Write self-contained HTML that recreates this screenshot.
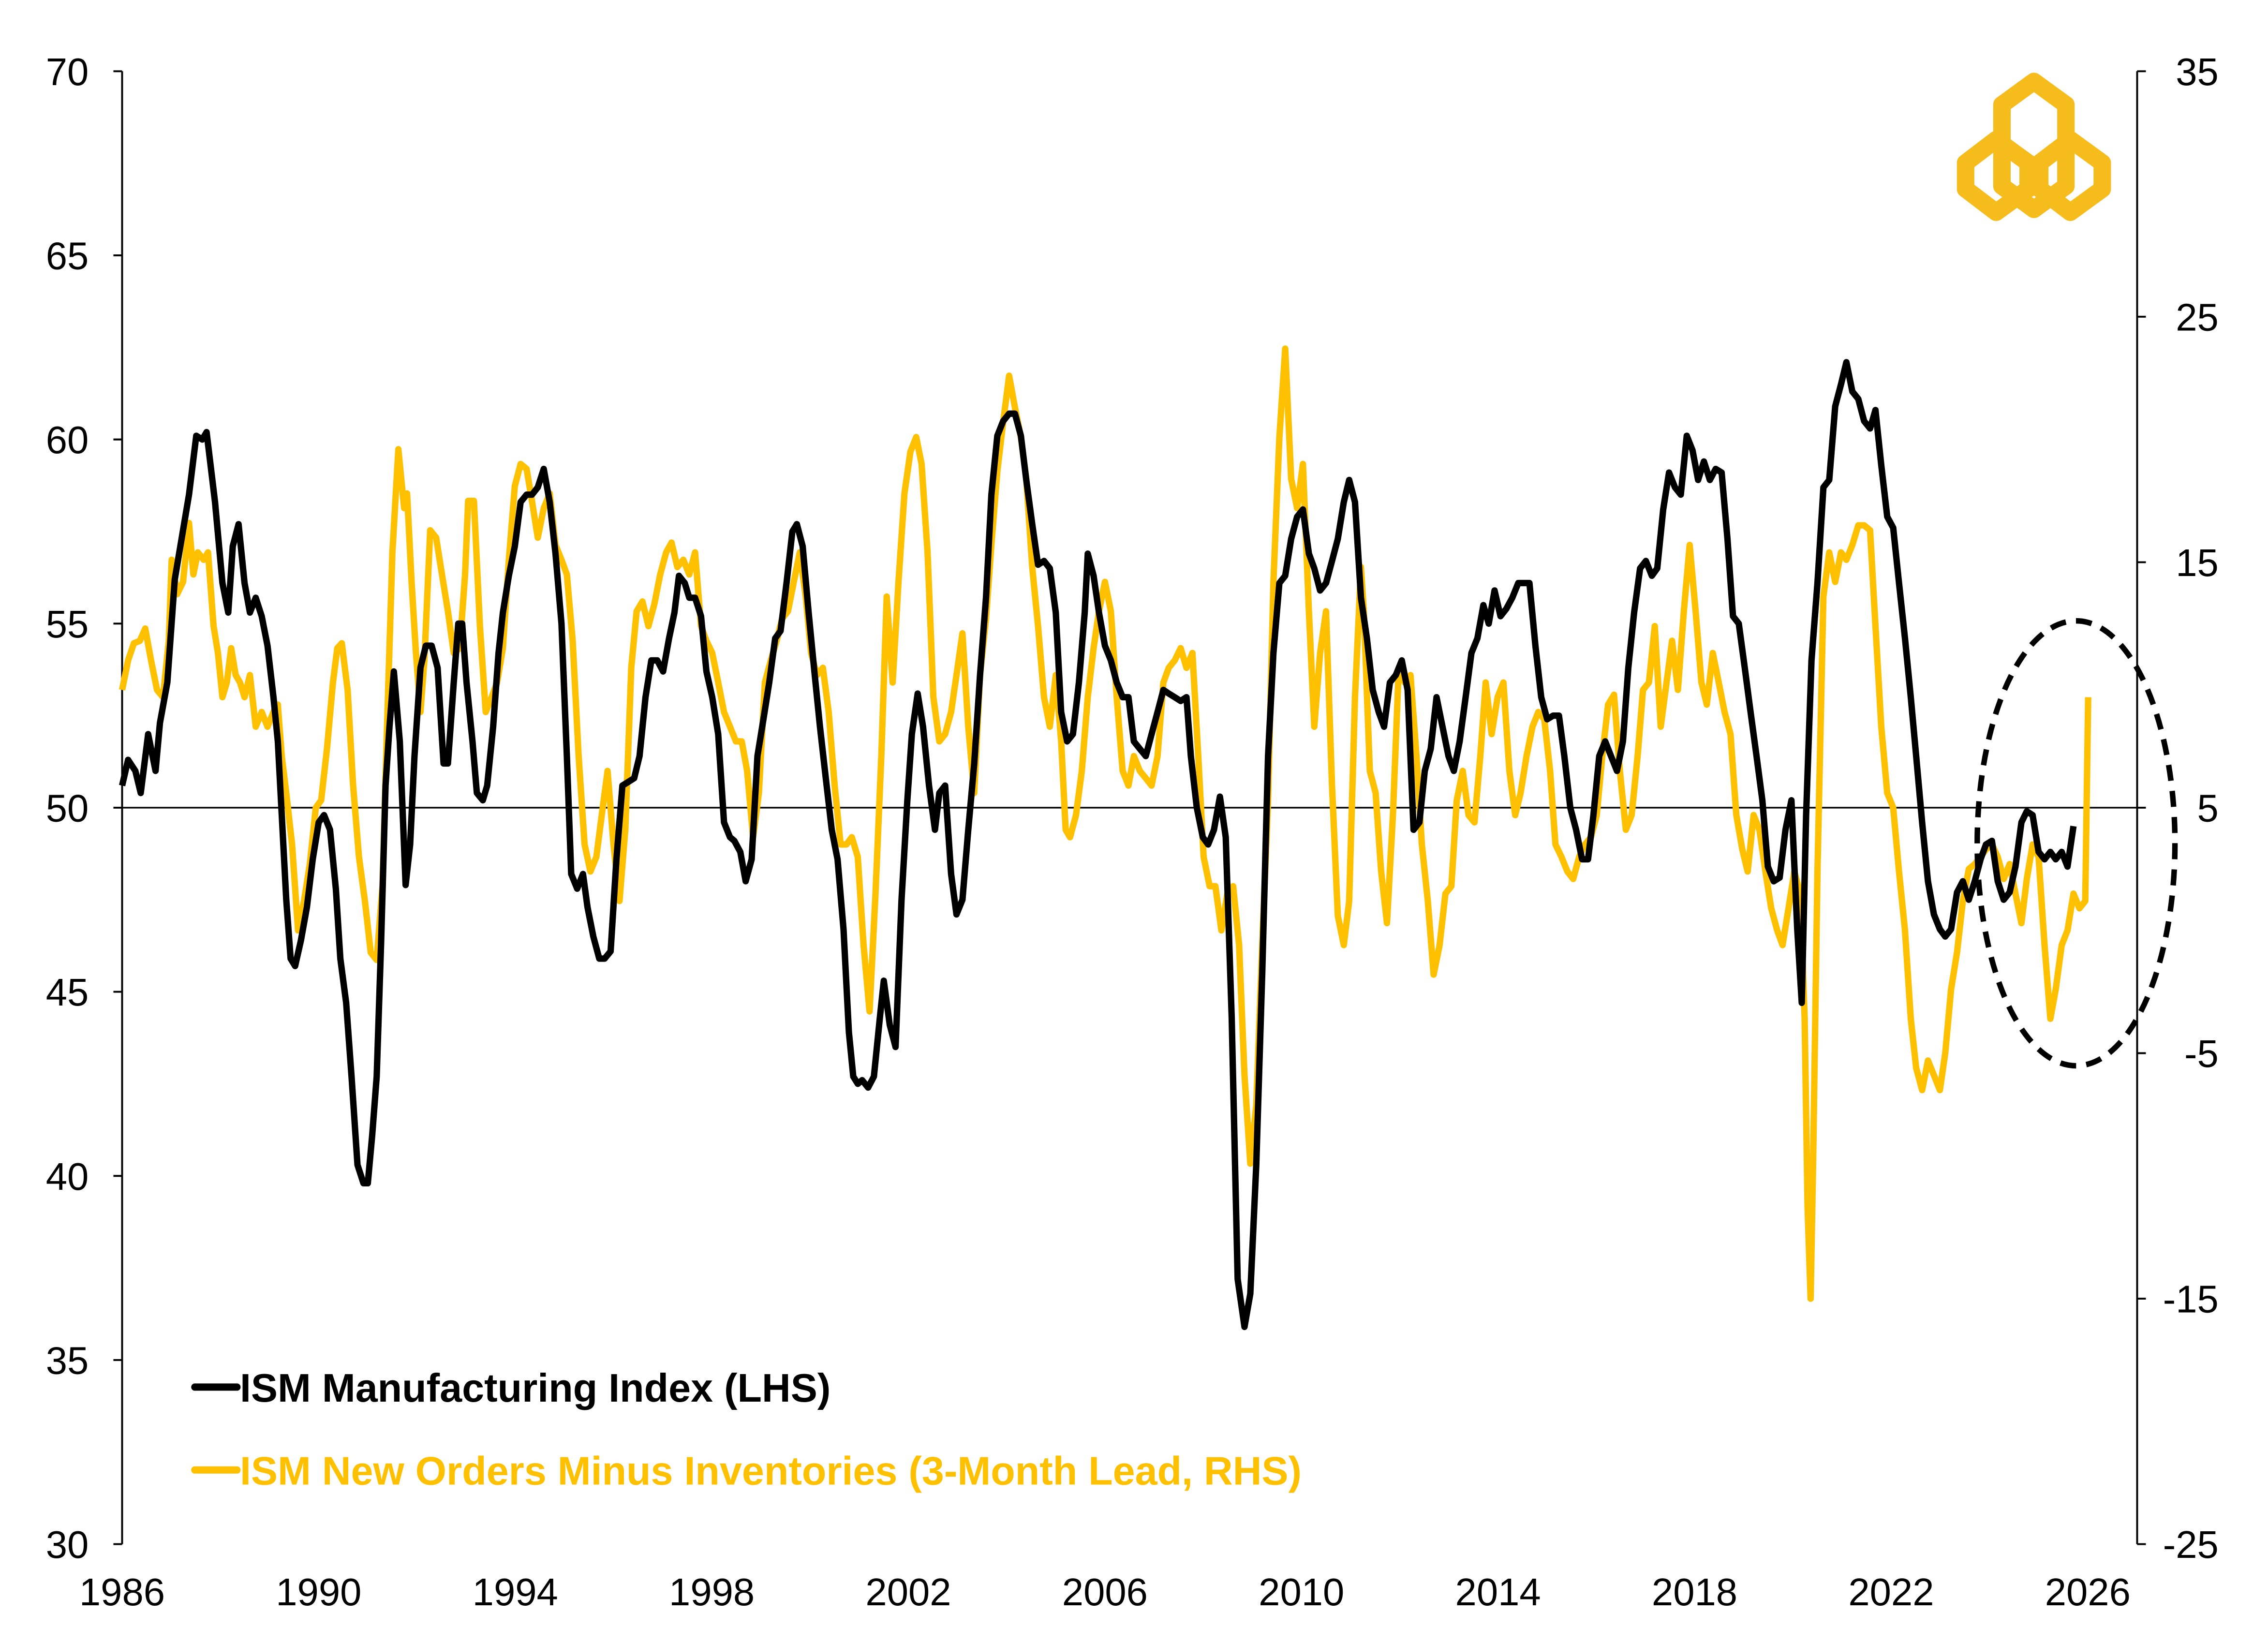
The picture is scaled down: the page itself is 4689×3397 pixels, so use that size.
<!DOCTYPE html>
<html><head><meta charset="utf-8"><style>
html,body{margin:0;padding:0;background:#fff}
svg{display:block}
text{font-family:"Liberation Sans",Arial,sans-serif}
</style></head><body>
<svg id="chart" xmlns="http://www.w3.org/2000/svg" width="4689" height="3397" viewBox="0 0 1560 1130" preserveAspectRatio="none">
<rect width="1560" height="1130" fill="#fff"/>
<g id="axes"></g>
<g id="series"></g>
<ellipse cx="1428" cy="580" rx="68" ry="153" fill="none" stroke="#000" stroke-width="3.8" stroke-dasharray="11,7"/>
<g fill="none" stroke="#F5BC1C" stroke-width="12" stroke-linejoin="round">
<polygon points="1399,56 1421,72 1421,128 1399,144 1377,128 1377,72"/>
<polygon points="1373,96 1395,112 1395,130 1373,146 1352,130 1352,112"/>
<polygon points="1424,96 1446,112 1446,130 1424,146 1403,130 1403,112"/>
</g>
<g>
<line x1="134" y1="954" x2="163" y2="954" stroke="#000" stroke-width="5" stroke-linecap="round"/>
<text x="165" y="964" font-size="27.5" font-weight="bold" fill="#000">ISM Manufacturing Index (LHS)</text>
<line x1="134" y1="1011" x2="163" y2="1011" stroke="#FFC000" stroke-width="5" stroke-linecap="round"/>
<text x="165" y="1021" font-size="27.5" font-weight="bold" fill="#FFC000">ISM New Orders Minus Inventories (3-Month Lead, RHS)</text>
</g>
</svg>
<script>
const leftTicks=[70,65,60,55,50,45,40,35,30];
const rightTicks=[35,25,15,5,-5,-15,-25];
const yearTicks=[1986,1990,1994,1998,2002,2006,2010,2014,2018,2022,2026];
const ismDates=[1986.00,1986.12,1986.27,1986.38,1986.53,1986.68,1986.77,1986.92,1987.07,1987.21,1987.36,1987.51,1987.63,1987.72,1987.89,1988.04,1988.16,1988.25,1988.37,1988.49,1988.60,1988.72,1988.84,1988.96,1989.08,1989.17,1989.25,1989.34,1989.43,1989.52,1989.64,1989.76,1989.88,1990.00,1990.11,1990.23,1990.35,1990.44,1990.56,1990.67,1990.79,1990.91,1991.00,1991.09,1991.18,1991.27,1991.36,1991.44,1991.53,1991.65,1991.77,1991.86,1991.95,1992.07,1992.18,1992.30,1992.42,1992.54,1992.63,1992.75,1992.84,1992.92,1993.01,1993.13,1993.22,1993.34,1993.43,1993.55,1993.66,1993.75,1993.87,1993.99,1994.11,1994.23,1994.34,1994.46,1994.58,1994.70,1994.82,1994.94,1995.05,1995.14,1995.26,1995.38,1995.47,1995.59,1995.71,1995.82,1995.94,1996.06,1996.18,1996.30,1996.42,1996.53,1996.65,1996.77,1996.89,1997.01,1997.13,1997.24,1997.33,1997.45,1997.54,1997.66,1997.78,1997.89,1998.01,1998.13,1998.25,1998.37,1998.46,1998.58,1998.69,1998.81,1998.93,1999.05,1999.17,1999.29,1999.40,1999.52,1999.64,1999.73,1999.85,1999.97,2000.08,2000.20,2000.32,2000.44,2000.56,2000.68,2000.79,2000.88,2000.97,2001.06,2001.18,2001.30,2001.42,2001.50,2001.62,2001.74,2001.86,2001.98,2002.07,2002.19,2002.30,2002.42,2002.54,2002.63,2002.75,2002.87,2002.98,2003.10,2003.22,2003.34,2003.46,2003.58,2003.69,2003.81,2003.93,2004.05,2004.17,2004.29,2004.40,2004.52,2004.64,2004.76,2004.88,2005.00,2005.11,2005.23,2005.35,2005.47,2005.59,2005.65,2005.77,2005.88,2006.00,2006.12,2006.24,2006.36,2006.48,2006.59,2006.71,2006.83,2006.95,2007.07,2007.19,2007.30,2007.42,2007.54,2007.66,2007.75,2007.87,2007.99,2008.10,2008.22,2008.34,2008.46,2008.58,2008.70,2008.84,2008.96,2009.08,2009.20,2009.32,2009.43,2009.55,2009.67,2009.79,2009.91,2010.03,2010.15,2010.26,2010.38,2010.50,2010.62,2010.74,2010.86,2010.97,2011.09,2011.21,2011.33,2011.45,2011.57,2011.68,2011.80,2011.92,2012.04,2012.16,2012.28,2012.40,2012.51,2012.63,2012.75,2012.87,2012.99,2013.10,2013.22,2013.34,2013.46,2013.58,2013.70,2013.81,2013.93,2014.05,2014.17,2014.29,2014.41,2014.53,2014.64,2014.76,2014.88,2015.00,2015.12,2015.24,2015.35,2015.47,2015.59,2015.71,2015.83,2015.94,2016.06,2016.18,2016.30,2016.42,2016.54,2016.65,2016.77,2016.89,2017.01,2017.13,2017.24,2017.36,2017.48,2017.60,2017.72,2017.84,2017.96,2018.07,2018.19,2018.31,2018.43,2018.55,2018.67,2018.78,2018.90,2019.02,2019.14,2019.26,2019.38,2019.49,2019.61,2019.73,2019.85,2019.97,2020.09,2020.18,2020.27,2020.38,2020.50,2020.62,2020.74,2020.86,2020.98,2021.09,2021.21,2021.33,2021.45,2021.57,2021.68,2021.80,2021.92,2022.04,2022.16,2022.28,2022.40,2022.51,2022.63,2022.75,2022.87,2022.99,2023.10,2023.22,2023.34,2023.46,2023.58,2023.70,2023.82,2023.93,2024.05,2024.17,2024.29,2024.41,2024.53,2024.65,2024.76,2024.88,2025.00,2025.12,2025.24,2025.35,2025.47,2025.59,2025.71];
const ismValues=[50.6,51.3,51.0,50.4,52.0,51.0,52.3,53.4,56.2,57.3,58.5,60.1,60.0,60.2,58.3,56.1,55.3,57.1,57.7,56.1,55.3,55.7,55.2,54.4,53.0,51.8,49.8,47.5,45.9,45.7,46.4,47.3,48.6,49.6,49.8,49.4,47.8,45.9,44.7,42.7,40.3,39.8,39.8,41.1,42.7,46.3,50.6,52.2,53.7,51.8,47.9,49.0,51.4,53.8,54.4,54.4,53.8,51.2,51.2,53.4,55.0,55.0,53.4,51.8,50.4,50.2,50.6,52.2,54.2,55.3,56.3,57.1,58.3,58.5,58.5,58.7,59.2,58.3,56.9,55.0,51.4,48.2,47.8,48.2,47.3,46.5,45.9,45.9,46.1,48.6,50.6,50.7,50.8,51.4,53.0,54.0,54.0,53.7,54.6,55.3,56.3,56.1,55.7,55.7,55.2,53.7,53.0,52.0,49.6,49.2,49.1,48.8,48.0,48.6,51.4,52.4,53.4,54.6,54.8,56.1,57.5,57.7,57.1,55.3,53.8,52.2,50.8,49.4,48.6,46.7,43.9,42.7,42.5,42.6,42.4,42.7,44.3,45.3,44.1,43.5,47.5,50.2,52.0,53.1,52.2,50.6,49.4,50.4,50.6,48.2,47.1,47.5,49.4,51.2,53.6,55.7,58.5,60.1,60.5,60.7,60.7,60.1,58.9,57.7,56.6,56.7,56.5,55.3,52.6,51.8,52.0,53.4,55.3,56.9,56.3,55.3,54.4,54.0,53.4,53.0,53.0,51.8,51.6,51.4,52.0,52.6,53.2,53.1,53.0,52.9,53.0,51.4,50.0,49.2,49.0,49.4,50.3,49.2,44.3,37.2,35.9,36.8,40.3,45.5,51.4,54.2,56.1,56.3,57.3,57.9,58.1,56.9,56.5,55.9,56.1,56.7,57.3,58.3,58.9,58.3,55.7,54.6,53.2,52.6,52.2,53.4,53.6,54.0,53.2,49.4,49.6,51.0,51.6,53.0,52.2,51.4,51.0,51.8,53.0,54.2,54.6,55.5,55.0,55.9,55.2,55.4,55.7,56.1,56.1,56.1,54.4,53.0,52.4,52.5,52.5,51.4,50.0,49.4,48.6,48.6,49.8,51.4,51.8,51.4,51.0,51.8,53.8,55.3,56.5,56.7,56.3,56.5,58.1,59.1,58.7,58.5,60.1,59.7,58.9,59.4,58.9,59.2,59.1,57.3,55.2,55.0,53.8,52.6,51.4,50.2,48.4,48.0,48.1,49.4,50.2,46.7,44.7,49.8,54.0,56.1,58.7,58.9,60.9,61.5,62.1,61.3,61.1,60.5,60.3,60.8,59.3,57.9,57.6,56.1,54.6,53.0,51.4,49.6,48.0,47.1,46.7,46.5,46.7,47.7,48.0,47.5,48.0,48.6,49.0,49.1,48.0,47.5,47.7,48.4,49.6,49.9,49.8,48.8,48.6,48.8,48.6,48.8,48.4,49.5];
const noiDates=[1986.00,1986.12,1986.24,1986.36,1986.47,1986.59,1986.71,1986.83,1986.95,1987.01,1987.12,1987.24,1987.36,1987.45,1987.54,1987.66,1987.75,1987.86,1987.95,1988.04,1988.13,1988.22,1988.31,1988.40,1988.49,1988.60,1988.72,1988.84,1988.96,1989.08,1989.17,1989.25,1989.34,1989.46,1989.58,1989.70,1989.82,1989.94,1990.05,1990.17,1990.29,1990.38,1990.47,1990.59,1990.70,1990.82,1990.94,1991.06,1991.18,1991.30,1991.39,1991.50,1991.62,1991.74,1991.80,1991.89,1991.98,1992.07,1992.15,1992.27,1992.39,1992.51,1992.63,1992.75,1992.87,1992.98,1993.04,1993.16,1993.28,1993.40,1993.52,1993.63,1993.75,1993.87,1993.99,1994.11,1994.23,1994.34,1994.46,1994.58,1994.70,1994.82,1994.94,1995.05,1995.17,1995.29,1995.41,1995.53,1995.65,1995.76,1995.88,1996.00,1996.12,1996.24,1996.36,1996.47,1996.59,1996.71,1996.83,1996.95,1997.07,1997.18,1997.30,1997.42,1997.54,1997.66,1997.78,1997.89,1998.01,1998.13,1998.25,1998.37,1998.49,1998.61,1998.72,1998.84,1998.96,1999.08,1999.20,1999.32,1999.43,1999.55,1999.67,1999.79,1999.91,2000.02,2000.14,2000.26,2000.38,2000.50,2000.62,2000.74,2000.85,2000.97,2001.09,2001.21,2001.33,2001.45,2001.56,2001.68,2001.80,2001.92,2002.04,2002.16,2002.27,2002.39,2002.51,2002.63,2002.75,2002.87,2002.98,2003.10,2003.22,2003.34,2003.46,2003.58,2003.69,2003.81,2003.93,2004.05,2004.17,2004.29,2004.40,2004.52,2004.64,2004.76,2004.88,2005.00,2005.11,2005.20,2005.29,2005.41,2005.53,2005.65,2005.77,2005.88,2006.00,2006.12,2006.24,2006.36,2006.48,2006.59,2006.71,2006.83,2006.95,2007.07,2007.19,2007.30,2007.42,2007.54,2007.66,2007.78,2007.90,2008.01,2008.13,2008.25,2008.37,2008.49,2008.61,2008.73,2008.84,2008.96,2009.08,2009.20,2009.32,2009.43,2009.55,2009.67,2009.79,2009.91,2010.03,2010.15,2010.26,2010.38,2010.50,2010.62,2010.74,2010.86,2010.97,2011.09,2011.21,2011.27,2011.39,2011.51,2011.62,2011.74,2011.86,2011.98,2012.10,2012.22,2012.34,2012.45,2012.57,2012.69,2012.81,2012.93,2013.05,2013.16,2013.28,2013.40,2013.52,2013.64,2013.75,2013.87,2013.99,2014.11,2014.23,2014.35,2014.46,2014.58,2014.70,2014.82,2014.94,2015.06,2015.17,2015.29,2015.41,2015.53,2015.65,2015.77,2015.89,2016.01,2016.12,2016.24,2016.36,2016.48,2016.60,2016.72,2016.84,2016.95,2017.07,2017.19,2017.31,2017.43,2017.54,2017.66,2017.78,2017.90,2018.02,2018.14,2018.25,2018.37,2018.49,2018.61,2018.73,2018.85,2018.97,2019.08,2019.20,2019.32,2019.44,2019.56,2019.68,2019.79,2019.91,2020.03,2020.15,2020.24,2020.30,2020.36,2020.41,2020.50,2020.62,2020.74,2020.86,2020.98,2021.09,2021.21,2021.33,2021.45,2021.57,2021.68,2021.80,2021.92,2022.04,2022.16,2022.28,2022.40,2022.51,2022.63,2022.75,2022.87,2022.99,2023.10,2023.22,2023.34,2023.46,2023.58,2023.70,2023.82,2023.93,2024.05,2024.17,2024.29,2024.41,2024.53,2024.65,2024.76,2024.88,2025.00,2025.12,2025.24,2025.35,2025.47,2025.59,2025.71,2025.83,2025.95,2026.01];
const noiValues=[9.8,11.0,11.7,11.8,12.3,11.0,9.8,9.5,11.8,15.1,13.7,14.2,16.6,14.5,15.4,15.1,15.4,12.4,11.3,9.5,10.1,11.5,10.4,10.1,9.5,10.4,8.3,8.9,8.3,8.9,9.2,7.1,5.6,3.5,0.0,1.2,2.7,5.0,5.3,7.4,10.1,11.5,11.7,9.8,5.9,3.0,1.2,-0.9,-1.2,1.8,8.3,15.4,19.6,17.2,17.8,14.2,11.3,8.9,11.0,16.3,16.0,14.5,13.0,11.3,11.5,14.5,17.5,17.5,12.4,8.9,9.5,10.1,11.5,15.1,18.1,19.0,18.8,17.5,16.0,17.2,17.8,15.7,15.1,14.5,11.8,7.1,3.5,2.4,3.0,4.7,6.5,3.5,1.2,4.1,10.7,13.0,13.4,12.4,13.3,14.5,15.4,15.8,14.8,15.1,14.5,15.4,12.4,11.8,11.3,10.1,8.9,8.3,7.7,7.7,6.5,3.8,5.6,10.1,11.0,11.8,12.7,13.0,14.2,15.4,13.6,11.3,10.4,10.7,8.9,5.9,3.5,3.5,3.8,3.0,-0.6,-3.3,1.5,7.1,13.6,10.1,14.2,17.8,19.5,20.1,19.0,15.4,9.5,7.7,8.0,8.9,10.4,12.1,8.3,5.6,10.4,12.7,15.7,18.7,20.7,22.6,21.3,20.1,18.4,14.8,12.4,9.5,8.3,10.4,7.7,4.1,3.8,4.7,6.5,9.5,11.5,13.0,14.2,13.0,9.5,6.5,5.9,7.1,6.5,6.2,5.9,7.1,10.1,10.7,11.0,11.5,10.7,11.3,7.1,3.0,1.8,1.8,0.0,1.5,1.8,-0.6,-5.9,-9.5,-7.1,-0.6,5.3,14.2,20.1,23.7,18.4,17.2,19.0,13.0,8.3,11.3,13.0,5.9,0.6,-0.6,1.2,9.5,14.8,13.0,6.5,5.6,2.4,0.3,4.7,10.7,10.1,10.4,7.1,3.5,1.2,-1.8,-0.6,1.5,1.8,5.3,6.5,4.7,4.4,7.1,10.1,8.0,9.5,10.1,6.5,4.7,5.6,7.1,8.3,8.9,8.6,6.5,3.5,3.0,2.4,2.1,3.0,3.5,3.8,4.7,7.1,9.2,9.6,6.5,4.1,4.7,7.1,9.8,10.1,12.4,8.3,10.1,11.8,9.8,13.0,15.7,13.0,10.1,9.2,11.3,10.1,8.9,8.0,4.7,3.3,2.4,4.7,4.1,2.4,0.9,0.0,-0.6,0.9,2.4,1.5,-3.6,-11.3,-15.0,-9.5,2.4,13.6,15.4,14.2,15.4,15.1,15.7,16.5,16.5,16.3,12.4,8.3,5.6,5.0,2.4,0.0,-3.6,-5.6,-6.5,-5.3,-5.9,-6.5,-5.0,-2.4,-0.9,1.2,2.5,2.7,3.0,3.3,3.5,3.0,2.1,2.7,1.5,0.3,2.1,3.5,3.0,-0.6,-3.6,-2.4,-0.6,0.0,1.5,0.9,1.2,9.5];

const NS='http://www.w3.org/2000/svg';
const X0=84,X1=1470,YT=49,YB=1062;
function xPos(yr){return X0+(yr-1986)*33.8;}
function yLeft(v){return YB-(v-30)*(YB-YT)/40;}
function yRight(v){return YB-(v+25)*(YB-YT)/60;}
const axes=document.getElementById('axes');
const series=document.getElementById('series');
function mk(tag,attrs,parent){const e=document.createElementNS(NS,tag);for(const k in attrs)e.setAttribute(k,attrs[k]);parent.appendChild(e);return e;}

const la=mk('line',{x1:X0,y1:YT,x2:X0,y2:YB,stroke:'#000','stroke-width':1.3},axes);


const ra=mk('line',{x1:X1,y1:YT,x2:X1,y2:YB,stroke:'#000','stroke-width':1.3},axes);


const zl=mk('line',{x1:X0,y1:yLeft(50),x2:X1,y2:yLeft(50),stroke:'#000','stroke-width':1.1},axes);



leftTicks.forEach(v=>{
  const y=yLeft(v);
  const t=mk('line',{x1:X0-6,y1:y,x2:X0,y2:y,stroke:'#000','stroke-width':1.3},axes);
  
  
  const l=mk('text',{x:61,y:y+9.5,'font-size':26.5,'text-anchor':'end',fill:'#000'},axes);
  l.textContent=v;
  
  
});
rightTicks.forEach(v=>{
  const y=yRight(v);
  const t=mk('line',{x1:X1,y1:y,x2:X1+6,y2:y,stroke:'#000','stroke-width':1.3},axes);
  
  
  const l=mk('text',{x:1526,y:y+9.5,'font-size':26.5,'text-anchor':'end',fill:'#000'},axes);
  l.textContent=v;
  
  
});
yearTicks.forEach(yr=>{
  const l=mk('text',{x:xPos(yr),y:1104,'font-size':26.5,'text-anchor':'middle',fill:'#000'},axes);
  l.textContent=yr;
  
  
});

function path(dates,vals,yf){return dates.map((d,i)=>(i?'L':'M')+xPos(d).toFixed(1)+','+yf(vals[i]).toFixed(1)).join(' ');}
const noi=mk('path',{d:path(noiDates,noiValues,yRight),fill:'none',stroke:'#FFC000','stroke-width':4.4,'stroke-linejoin':'round'},series);


const ism=mk('path',{d:path(ismDates,ismValues,yLeft),fill:'none',stroke:'#000','stroke-width':4.4,'stroke-linejoin':'round'},series);


</script>
</body></html>
